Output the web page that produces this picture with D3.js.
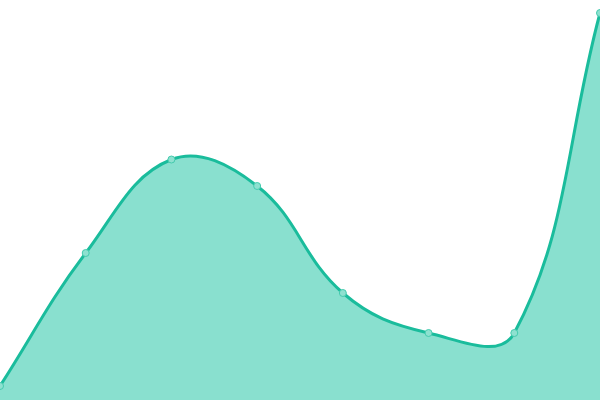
<!DOCTYPE html>
<html>
<head>
<meta charset="utf-8">
<script src="https://cdn.jsdelivr.net/npm/d3@7"></script>
<style>
  html, body { margin: 0; padding: 0; background: #fff; overflow: hidden; }
</style>
</head>
<body>
<div id="chart"></div>
<script>
// chart data
var days = [1, 2, 3, 4, 5, 6, 7, 8];
var values = [14, 147, 240.5, 214, 107, 67, 67, 387];

var svgWidth = 600;
var svgHeight = 400;

var svg = d3.select("#chart")
  .append("svg")
  .attr("width", svgWidth)
  .attr("height", svgHeight);

var data = days.map(function(d, i) { return { day: d, value: values[i] }; });

var xScale = d3.scaleLinear()
  .domain([d3.min(days), d3.max(days)])
  .range([0, svgWidth]);

var yScale = d3.scaleLinear()
  .domain([0, 400])
  .range([svgHeight, 0]);

// tension spline (distance weighted bezier control points)
function TensionCurve(context, tension) {
  this._context = context;
  this._t = tension;
}
TensionCurve.prototype = {
  areaStart: function() { this._line = 0; },
  areaEnd: function() { this._line = NaN; },
  lineStart: function() { this._pts = []; },
  point: function(x, y) { this._pts.push([+x, +y]); },
  lineEnd: function() {
    var p = this._pts, n = p.length, ctx = this._context, t = this._t;
    if (n) {
      if (this._line) ctx.lineTo(p[0][0], p[0][1]);
      else ctx.moveTo(p[0][0], p[0][1]);
      // control points for each point
      var cps = p.map(function(cur, i) {
        var prev = p[Math.max(i - 1, 0)], next = p[Math.min(i + 1, n - 1)];
        var d01 = Math.hypot(cur[0] - prev[0], cur[1] - prev[1]);
        var d12 = Math.hypot(next[0] - cur[0], next[1] - cur[1]);
        var s01 = d01 / (d01 + d12), s12 = d12 / (d01 + d12);
        if (isNaN(s01)) s01 = 0;
        if (isNaN(s12)) s12 = 0;
        var fa = t * s01, fb = t * s12;
        return {
          inX: cur[0] - fa * (next[0] - prev[0]),
          inY: cur[1] - fa * (next[1] - prev[1]),
          outX: cur[0] + fb * (next[0] - prev[0]),
          outY: cur[1] + fb * (next[1] - prev[1])
        };
      });
      for (var i = 1; i < n; i++) {
        ctx.bezierCurveTo(cps[i - 1].outX, cps[i - 1].outY, cps[i].inX, cps[i].inY, p[i][0], p[i][1]);
      }
    }
    if (this._line || (this._line !== 0 && n === 1)) ctx.closePath();
    this._line = 1 - this._line;
  }
};
var curve = function(context) { return new TensionCurve(context, 0.4); };

// filled area
var area = d3.area()
  .x(d => xScale(d.day))
  .y0(yScale(0))
  .y1(d => yScale(d.value))
  .curve(curve);

svg.append("path")
  .datum(data)
  .attr("d", area)
  .attr("fill", "#89e0cf");

// line on top
var line = d3.line()
  .x(d => xScale(d.day))
  .y(d => yScale(d.value))
  .curve(curve);

svg.append("path")
  .datum(data)
  .attr("d", line)
  .attr("fill", "none")
  .attr("stroke", "#1abc9c")
  .attr("stroke-width", 3);

// point markers
svg.selectAll("circle")
  .data(data)
  .enter()
  .append("circle")
  .attr("cx", d => xScale(d.day))
  .attr("cy", d => yScale(d.value))
  .attr("r", 3.5)
  .attr("fill", "#8ee1d0")
  .attr("stroke", "#45cbae")
  .attr("stroke-width", 1);
</script>
</body>
</html>
